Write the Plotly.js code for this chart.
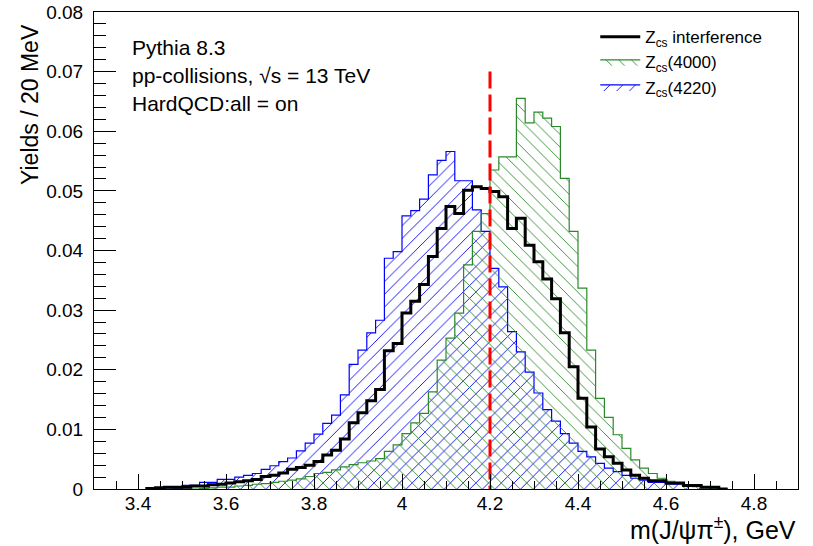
<!DOCTYPE html>
<html>
<head>
<meta charset="utf-8">
<script src="https://cdn.plot.ly/plotly-3.0.1.min.js"></script>
<style>
  html, body { margin: 0; padding: 0; background: #ffffff; }
  #chart { width: 813px; height: 546px; }
</style>
</head>
<body>
<div id="chart"></div>
<script>
// Bin low edges (20 MeV bins), GeV
const binLow = [
  3.42, 3.44, 3.46, 3.48, 3.50, 3.52, 3.54, 3.56, 3.58, 3.60,
  3.62, 3.64, 3.66, 3.68, 3.70, 3.72, 3.74, 3.76, 3.78, 3.80,
  3.82, 3.84, 3.86, 3.88, 3.90, 3.92, 3.94, 3.96, 3.98, 4.00,
  4.02, 4.04, 4.06, 4.08, 4.10, 4.12, 4.14, 4.16, 4.18, 4.20,
  4.22, 4.24, 4.26, 4.28, 4.30, 4.32, 4.34, 4.36, 4.38, 4.40,
  4.42, 4.44, 4.46, 4.48, 4.50, 4.52, 4.54, 4.56, 4.58, 4.60,
  4.62, 4.64, 4.66, 4.68, 4.70, 4.72
];
const binWidth = 0.02;

// Z_cs(4220) (blue)
const zcs4220 = [
  0, 0, 0, 0.0001, 0.0006, 0.0006, 0.0011, 0.0011, 0.0016, 0.0016,
  0.0020, 0.0023, 0.0026, 0.0033, 0.0039, 0.0046, 0.0052, 0.0064, 0.0077, 0.0092,
  0.0110, 0.0124, 0.0158, 0.0209, 0.0233, 0.0262, 0.0283, 0.0387, 0.0398, 0.0458,
  0.0467, 0.0486, 0.0527, 0.0551, 0.0566, 0.0517, 0.0517, 0.0468, 0.0432, 0.0370,
  0.0339, 0.0264, 0.0230, 0.0196, 0.0161, 0.0133, 0.0114, 0.0093, 0.0077, 0.0063,
  0.0054, 0.0043, 0.0035, 0.0029, 0.0023, 0.0018, 0.0015, 0.0011, 0.0011, 0.0008,
  0.0008, 0.0005, 0.0005, 0.0003, 0, 0
];

// Z_cs(4000) (green)
const zcs4000 = [
  0, 0, 0, 0, 0, 0, 0.0001, 0.0002, 0.0003, 0.0003,
  0.0005, 0.0006, 0.0008, 0.0009, 0.0011, 0.0013, 0.0015, 0.0017, 0.0021, 0.0026,
  0.0028, 0.0032, 0.0037, 0.0041, 0.0044, 0.0047, 0.0051, 0.0063, 0.0074, 0.0093,
  0.0111, 0.0127, 0.0163, 0.0216, 0.0253, 0.0295, 0.0376, 0.0432, 0.0462, 0.0535,
  0.0557, 0.0557, 0.0655, 0.0614, 0.0632, 0.0622, 0.0608, 0.0521, 0.0432, 0.0337,
  0.0233, 0.0152, 0.0120, 0.0091, 0.0068, 0.0049, 0.0035, 0.0026, 0.0018, 0.0013,
  0.0010, 0.0007, 0.0004, 0.0002, 0, 0
];

// Z_cs interference (black)
const zcsInterference = [
  0.0001, 0.0002, 0.0003, 0.0003, 0.0003, 0.0005, 0.0005, 0.0007, 0.0008, 0.0010,
  0.0012, 0.0014, 0.0016, 0.0021, 0.0023, 0.0027, 0.0033, 0.0036, 0.0040, 0.0046,
  0.0057, 0.0065, 0.0084, 0.0111, 0.0128, 0.0148, 0.0167, 0.0232, 0.0244, 0.0295,
  0.0315, 0.0343, 0.0390, 0.0437, 0.0474, 0.0462, 0.0501, 0.0507, 0.0504, 0.0499,
  0.0490, 0.0437, 0.0454, 0.0409, 0.0381, 0.0352, 0.0319, 0.0262, 0.0205, 0.0152,
  0.0104, 0.0067, 0.0054, 0.0043, 0.0032, 0.0023, 0.0018, 0.0014, 0.0014, 0.0010,
  0.0010, 0.0006, 0.0006, 0.0003, 0.0003, 0
];

const seriesNames = ['Z<sub>cs</sub>(4220)', 'Z<sub>cs</sub>(4000)', 'Z<sub>cs</sub> interference'];
const cutX = 4.2;      // red dashed marker position
const cutTop = 0.07;   // red dashed marker height

const xTickVals = [3.4, 3.6, 3.8, 4.0, 4.2, 4.4, 4.6, 4.8];
const yTickVals = [0, 0.01, 0.02, 0.03, 0.04, 0.05, 0.06, 0.07, 0.08];

const infoLines = ['Pythia 8.3', 'pp-collisions, √s = 13 TeV', 'HardQCD:all = on'];

// Build step outline: start at first edge with 0, then each bin, end at last edge with 0
function stepXY(vals) {
  const xs = [binLow[0]];
  const ys = [0];
  for (let i = 0; i < binLow.length; i++) { xs.push(binLow[i]); ys.push(vals[i]); }
  xs.push(binLow[binLow.length - 1] + binWidth);
  ys.push(0);
  return { xs, ys };
}

const FONT = 'Liberation Sans, Arial, Helvetica, sans-serif';
const blueS = stepXY(zcs4220);
const greenS = stepXY(zcs4000);
const blackS = stepXY(zcsInterference);

const traces = [
  {
    type: 'scatter', mode: 'lines', name: seriesNames[0],
    x: blueS.xs, y: blueS.ys,
    line: { shape: 'hv', color: '#0000ff', width: 1.2 },
    fill: 'tozeroy', fillcolor: 'rgba(0,0,0,0)',
    fillpattern: { shape: '/', fgcolor: '#0000ff', bgcolor: 'rgba(0,0,0,0)', size: 9, solidity: 0.1 },
    hoverinfo: 'skip'
  },
  {
    type: 'scatter', mode: 'lines', name: seriesNames[1],
    x: greenS.xs, y: greenS.ys,
    line: { shape: 'hv', color: '#2a8a2a', width: 1.2 },
    fill: 'tozeroy', fillcolor: 'rgba(0,0,0,0)',
    fillpattern: { shape: '\\', fgcolor: '#2a8a2a', bgcolor: 'rgba(0,0,0,0)', size: 9, solidity: 0.1 },
    hoverinfo: 'skip'
  },
  {
    type: 'scatter', mode: 'lines', name: seriesNames[2],
    x: blackS.xs, y: blackS.ys,
    line: { shape: 'hv', color: '#000000', width: 3 },
    hoverinfo: 'skip'
  },
  {
    type: 'scatter', mode: 'lines', showlegend: false,
    x: [cutX, cutX], y: [cutTop, 0],
    line: { color: '#ff0000', width: 3, dash: '17px,6px' },
    hoverinfo: 'skip'
  }
];

const annotations = infoLines.map((t, i) => ({
  text: t, xref: 'paper', yref: 'paper',
  x: 0.051, y: 0.925 - i * 0.0587,
  xanchor: 'left', yanchor: 'middle', showarrow: false,
  font: { family: FONT, size: 21, color: '#000' }
}));
annotations.push({
  text: 'Yields / 20 MeV', xref: 'paper', yref: 'paper',
  x: -0.091, y: 0.807, xanchor: 'center', yanchor: 'middle',
  textangle: -90, showarrow: false,
  font: { family: FONT, size: 23, color: '#000' }
});
annotations.push({
  text: 'm(J/ψπ<sup>±</sup>), GeV', xref: 'paper', yref: 'paper',
  x: 1.0, y: -0.082, xanchor: 'right', yanchor: 'middle', showarrow: false,
  font: { family: FONT, size: 25, color: '#000' }
});

const layout = {
  width: 813, height: 546,
  margin: { l: 94, r: 15, t: 12, b: 57 },
  paper_bgcolor: '#ffffff', plot_bgcolor: '#ffffff',
  font: { family: FONT, color: '#000' },
  showlegend: true,
  legend: {
    x: 0.712, y: 0.985, xanchor: 'left', yanchor: 'top',
    traceorder: 'reversed', bgcolor: 'rgba(255,255,255,0)',
    borderwidth: 0, font: { family: FONT, size: 17, color: '#000' },
    tracegroupgap: 0, itemwidth: 40
  },
  xaxis: {
    range: [3.3, 4.9], showgrid: false, zeroline: false,
    showline: true, mirror: true, linecolor: '#000', linewidth: 1,
    ticks: 'inside', ticklen: 15, tickwidth: 1, tickcolor: '#000',
    tickvals: xTickVals, ticktext: xTickVals.map(v => String(v)),
    ticklabelstandoff: -3,
    minor: { ticks: 'inside', ticklen: 8, dtick: 0.05, tick0: 3.3, tickcolor: '#000', showgrid: false },
    tickfont: { family: FONT, size: 19, color: '#000' }
  },
  yaxis: {
    range: [0, 0.08], showgrid: false, zeroline: false,
    showline: true, mirror: true, linecolor: '#000', linewidth: 1,
    ticks: 'inside', ticklen: 22, tickwidth: 1, tickcolor: '#000',
    tickvals: yTickVals, ticktext: yTickVals.map(v => String(v)),
    ticklabelstandoff: 6,
    minor: { ticks: 'inside', ticklen: 12, dtick: 0.002, tick0: 0, tickcolor: '#000', showgrid: false },
    tickfont: { family: FONT, size: 19, color: '#000' }
  },
  annotations: annotations
};

Plotly.newPlot('chart', traces, layout, { displayModeBar: false, staticPlot: true });
</script>
</body>
</html>
